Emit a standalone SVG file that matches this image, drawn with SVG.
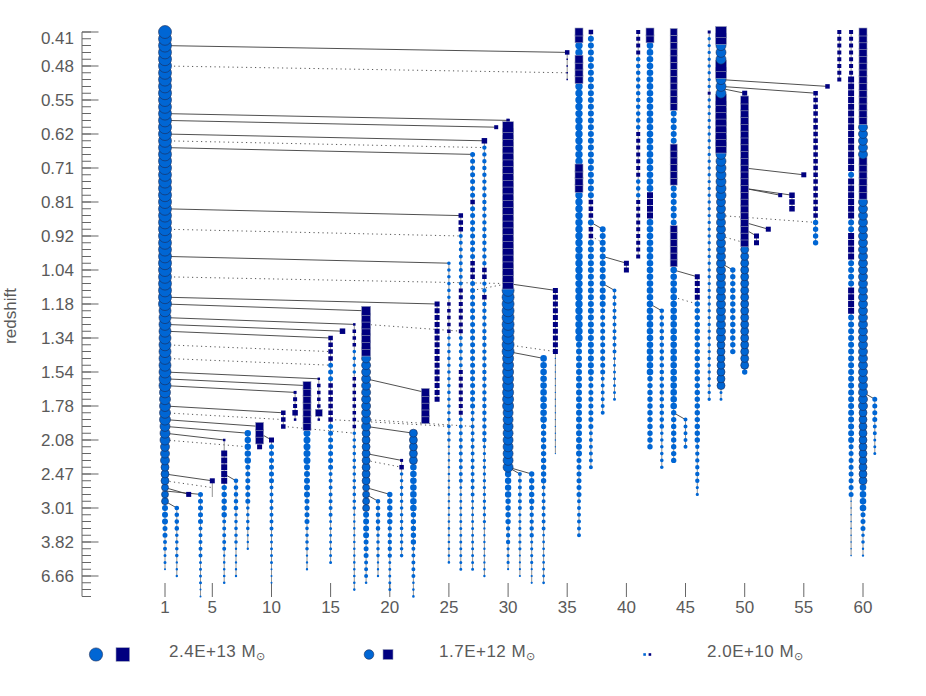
<svg xmlns="http://www.w3.org/2000/svg" width="926" height="696" viewBox="0 0 926 696">
<style>
.t{font-family:"Liberation Sans",Arial,sans-serif;font-size:17px;fill:#5a5a5a}
.lg{font-family:"Liberation Sans",Arial,sans-serif;font-size:17px;fill:#5a5a5a;letter-spacing:.5px}
.ax{stroke:#666;fill:none}
.cl{stroke:#666;stroke-width:.7;fill:none}
.k{fill:none;stroke:#0066d4;stroke-linecap:round;stroke-dasharray:0 6.8}
.q{fill:none;stroke:#000080}
.q15{stroke-width:1.5;stroke-dasharray:1.5 5.3}
.q25{stroke-width:2.5;stroke-dasharray:2.5 4.3}
.q3{stroke-width:3;stroke-dasharray:3 3.8}
.q35{stroke-width:3.5;stroke-dasharray:3.5 3.3}
.q4{stroke-width:4;stroke-dasharray:4 2.8}
.q45{stroke-width:4.5;stroke-dasharray:4.5 2.3}
.q5{stroke-width:5;stroke-dasharray:5 1.8}
.q55{stroke-width:5.5;stroke-dasharray:5.5 1.3}
.q6{stroke-width:6;stroke-dasharray:6 .8}
.m{fill:none;stroke:none}
.mc{fill:#0066d4;stroke:#1d2b55;stroke-width:.6}
.ms{fill:#000080;stroke:#9aa0b8;stroke-width:.6}
.C35{marker-start:url(#C35);marker-mid:url(#C35);marker-end:url(#C35)}
.C40{marker-start:url(#C40);marker-mid:url(#C40);marker-end:url(#C40)}
.C45{marker-start:url(#C45);marker-mid:url(#C45);marker-end:url(#C45)}
.C50{marker-start:url(#C50);marker-mid:url(#C50);marker-end:url(#C50)}
.C55{marker-start:url(#C55);marker-mid:url(#C55);marker-end:url(#C55)}
.C60{marker-start:url(#C60);marker-mid:url(#C60);marker-end:url(#C60)}
.C65{marker-start:url(#C65);marker-mid:url(#C65);marker-end:url(#C65)}
.S7{marker-start:url(#S7);marker-mid:url(#S7);marker-end:url(#S7)}
.S8{marker-start:url(#S8);marker-mid:url(#S8);marker-end:url(#S8)}
.S9{marker-start:url(#S9);marker-mid:url(#S9);marker-end:url(#S9)}
.S11{marker-start:url(#S11);marker-mid:url(#S11);marker-end:url(#S11)}
.ln{fill:none;stroke:#3c3c3c;stroke-width:.9}
.dt{fill:none;stroke:#555;stroke-width:1;stroke-dasharray:1.2 3.3}
</style>
<defs>
<marker id="C35" markerUnits="userSpaceOnUse" markerWidth="16" markerHeight="16" refX="8" refY="8"><circle cx="8" cy="8" r="3.5" class="mc"/></marker>
<marker id="C40" markerUnits="userSpaceOnUse" markerWidth="16" markerHeight="16" refX="8" refY="8"><circle cx="8" cy="8" r="4" class="mc"/></marker>
<marker id="C45" markerUnits="userSpaceOnUse" markerWidth="16" markerHeight="16" refX="8" refY="8"><circle cx="8" cy="8" r="4.5" class="mc"/></marker>
<marker id="C50" markerUnits="userSpaceOnUse" markerWidth="16" markerHeight="16" refX="8" refY="8"><circle cx="8" cy="8" r="5" class="mc"/></marker>
<marker id="C55" markerUnits="userSpaceOnUse" markerWidth="16" markerHeight="16" refX="8" refY="8"><circle cx="8" cy="8" r="5.5" class="mc"/></marker>
<marker id="C60" markerUnits="userSpaceOnUse" markerWidth="16" markerHeight="16" refX="8" refY="8"><circle cx="8" cy="8" r="6" class="mc"/></marker>
<marker id="C65" markerUnits="userSpaceOnUse" markerWidth="16" markerHeight="16" refX="8" refY="8"><circle cx="8" cy="8" r="6.5" class="mc"/></marker>
<marker id="S7" markerUnits="userSpaceOnUse" markerWidth="16" markerHeight="16" refX="8" refY="8"><rect x="4.5" y="4.5" width="7" height="7" class="ms"/></marker>
<marker id="S8" markerUnits="userSpaceOnUse" markerWidth="16" markerHeight="16" refX="8" refY="8"><rect x="4" y="4" width="8" height="8" class="ms"/></marker>
<marker id="S9" markerUnits="userSpaceOnUse" markerWidth="16" markerHeight="16" refX="8" refY="8"><rect x="3.5" y="3.5" width="9" height="9" class="ms"/></marker>
<marker id="S11" markerUnits="userSpaceOnUse" markerWidth="16" markerHeight="16" refX="8" refY="8"><rect x="2.5" y="2.5" width="11" height="11" class="ms"/></marker>
</defs>
<rect width="926" height="696" fill="#fff"/>

<g id="axes">
<path class="ax" d="M82 32V596.4"/>
<path class="ax" stroke-width="9" stroke-dasharray="1 5.8" d="M86.5 31.5V597"/>
<path class="ax" stroke-width="16.5" stroke-dasharray="1 33" d="M90.25 31.5V577"/>
<path class="ax" d="M165 583V597M212.3 583V597M271.5 583V597M330.6 583V597M389.8 583V597M448.9 583V597M508.1 583V597M567.2 583V597M626.4 583V597M685.5 583V597M744.7 583V597M803.8 583V597M863 583V597"/>
<g class="t" text-anchor="end">
<text x="74" y="44">0.41</text><text x="74" y="72">0.48</text><text x="74" y="106">0.55</text><text x="74" y="140">0.62</text><text x="74" y="174">0.71</text><text x="74" y="208">0.81</text><text x="74" y="242">0.92</text><text x="74" y="276">1.04</text><text x="74" y="310">1.18</text><text x="74" y="344">1.34</text><text x="74" y="378">1.54</text><text x="74" y="412">1.78</text><text x="74" y="446">2.08</text><text x="74" y="480">2.47</text><text x="74" y="514">3.01</text><text x="74" y="548">3.82</text><text x="74" y="582">6.66</text>
</g>
<g class="t" text-anchor="middle">
<text x="165" y="613">1</text><text x="212.3" y="613">5</text><text x="271.5" y="613">10</text><text x="330.6" y="613">15</text><text x="389.8" y="613">20</text><text x="448.9" y="613">25</text><text x="508.1" y="613">30</text><text x="567.2" y="613">35</text><text x="626.4" y="613">40</text><text x="685.5" y="613">45</text><text x="744.7" y="613">50</text><text x="803.8" y="613">55</text><text x="863" y="613">60</text>
</g>
<text class="t" text-anchor="middle" transform="translate(16,316) rotate(-90)">redshift</text>
</g>

<g id="connectors">
<path class="ln" d="M165 45.6L567.2 52.4"/>
<path class="ln" d="M165 113.6L508.1 120.4"/>
<path class="ln" d="M165 120.4L496.2 127.2"/>
<path class="ln" d="M165 134L484.4 140.8"/>
<path class="ln" d="M165 147.6L472.6 154.4"/>
<path class="ln" d="M165 208.8L460.8 215.6"/>
<path class="ln" d="M165 256.4L448.9 263.2"/>
<path class="ln" d="M165 297.2L437.1 304"/>
<path class="ln" d="M165 304L366.1 310.8"/>
<path class="ln" d="M165 317.6L354.3 324.4"/>
<path class="ln" d="M165 324.4L342.5 331.2"/>
<path class="ln" d="M165 331.2L330.6 338"/>
<path class="ln" d="M165 372L318.8 378.8"/>
<path class="ln" d="M165 378.8L307 385.6"/>
<path class="ln" d="M165 385.6L295.1 392.4"/>
<path class="ln" d="M165 406L283.3 412.8"/>
<path class="ln" d="M165 419.6L259.6 426.4"/>
<path class="ln" d="M165 426.4L247.8 433.2"/>
<path class="ln" d="M165 433.2L224.2 440"/>
<path class="ln" d="M165 474L212.3 480.8"/>
<path class="ln" d="M165 487.6L188.7 494.4"/>
<path class="ln" d="M165 491L200.5 494.4"/>
<path class="ln" d="M165 501.2L176.8 508"/>
<path class="ln" d="M224.2 474L236 480.8"/>
<path class="ln" d="M259.6 433.2L271.5 440"/>
<path class="ln" d="M366.1 378.8L425.3 392.4"/>
<path class="ln" d="M366.1 426.4L413.4 433.2"/>
<path class="ln" d="M366.1 453.6L401.6 460.4"/>
<path class="ln" d="M366.1 487.6L389.8 494.4"/>
<path class="ln" d="M366.1 494.4L378 501.2"/>
<path class="ln" d="M508.1 283.6L555.4 290.4"/>
<path class="ln" d="M508.1 351.6L543.6 358.4"/>
<path class="ln" d="M508.1 467.2L519.9 474"/>
<path class="ln" d="M508.1 467.2L531.7 474"/>
<path class="ln" d="M590.9 222.4L602.7 229.2"/>
<path class="ln" d="M602.7 256.4L626.4 263.2"/>
<path class="ln" d="M602.7 283.6L614.5 290.4"/>
<path class="ln" d="M650 304L661.8 310.8"/>
<path class="ln" d="M673.7 270L697.3 276.8"/>
<path class="ln" d="M673.7 412.8L685.5 419.6"/>
<path class="ln" d="M721 79.6L827.5 86.4"/>
<path class="ln" d="M721 86.4L815.6 93.2"/>
<path class="ln" d="M721 88.4L744.7 93.2"/>
<path class="ln" d="M721 263.2L732.8 270"/>
<path class="ln" d="M744.7 168L803.8 174.8"/>
<path class="ln" d="M744.7 188.4L780.2 195.2"/>
<path class="ln" d="M744.7 188.4L792 195.2"/>
<path class="ln" d="M744.7 222.4L768.3 229.2"/>
<path class="ln" d="M744.7 229.2L756.5 236"/>
<path class="ln" d="M863 392.4L874.8 399.2"/>
<path class="dt" d="M165 66L567.2 72.8"/>
<path class="dt" d="M165 140.8L484.4 147.6"/>
<path class="dt" d="M165 229.2L460.8 236"/>
<path class="dt" d="M165 276.8L508.1 283.6"/>
<path class="dt" d="M165 344.8L330.6 351.6"/>
<path class="dt" d="M165 358.4L330.6 365.2"/>
<path class="dt" d="M165 412.8L283.3 419.6"/>
<path class="dt" d="M165 440L247.8 446.8"/>
<path class="dt" d="M165 480.8L212.3 487.6"/>
<path class="dt" d="M330.6 419.6L448.9 426.4"/>
<path class="dt" d="M366.1 324.4L460.8 331.2"/>
<path class="dt" d="M366.1 419.6L472.6 426.4"/>
<path class="dt" d="M366.1 460.4L401.6 467.2"/>
<path class="dt" d="M283.3 426.4L354.3 433.2"/>
<path class="dt" d="M472.6 290.4L508.1 283.6"/>
<path class="dt" d="M508.1 344.8L555.4 351.6"/>
<path class="dt" d="M590.9 236L602.7 242.8"/>
<path class="dt" d="M673.7 297.2L697.3 304"/>
<path class="dt" d="M721 215.6L815.6 222.4"/>
<path class="dt" d="M721 236L744.7 242.8"/>
</g>

<g id="col1">
<path class="cl" d="M165 32V569.2"/>
<path class="k" stroke-width="6" d="M165 508V521.7"/>
<path class="k" stroke-width="5" d="M165 528.4V535.3"/>
<path class="k" stroke-width="4" d="M165 542V548.9"/>
<path class="k" stroke-width="3" d="M165 555.6V562.5"/>
<path class="k" stroke-width="2" d="M165 569.2V569.3"/>
<path class="m C35" d="M165 501.2v-6.8v-6.8"/>
<path class="m C40" d="M165 480.8v-6.8v-6.8"/>
<path class="m C45" d="M165 460.4v-6.8v-6.8"/>
<path class="m C50" d="M165 440v-6.8v-6.8"/>
<path class="m C55" d="M165 419.6v-6.8v-6.8v-6.8v-6.8"/>
<path class="m C60" d="M165 385.6v-6.8v-6.8v-6.8v-6.8v-6.8v-6.8v-6.8v-6.8v-6.8v-6.8v-6.8"/>
<path class="m C65" d="M165 304v-6.8v-6.8v-6.8v-6.8v-6.8v-6.8v-6.8v-6.8v-6.8v-6.8v-6.8v-6.8v-6.8v-6.8v-6.8v-6.8v-6.8v-6.8v-6.8v-6.8v-6.8v-6.8v-6.8v-6.8v-6.8v-6.8v-6.8v-6.8v-6.8v-6.8v-6.8v-6.8v-6.8v-6.8v-6.8v-6.8v-6.8v-6.8v-6.8v-6.8"/>
</g>
<g id="col2"><path class="cl" d="M176.8 508V576"/><path class="k" stroke-width="4.6" d="M176.8 508V528.5"/><path class="k" stroke-width="3.6" d="M176.8 535.2V555.7"/><path class="k" stroke-width="2.4" d="M176.8 562.4V576.1"/></g>
<g id="col3"><path class="q q5" d="M188.7 491.9V496.9"/></g>
<g id="col4"><path class="cl" d="M200.5 494.4V596.4"/><path class="k" stroke-width="5" d="M200.5 494.4V521.7"/><path class="k" stroke-width="4" d="M200.5 528.4V555.7"/><path class="k" stroke-width="3" d="M200.5 562.4V582.9"/><path class="k" stroke-width="2" d="M200.5 589.6V596.5"/></g>
<g id="col5"><path class="cl" d="M212.3 480.8V497"/><path class="q q5" d="M212.3 478.3V483.3"/></g>
<g id="col6"><path class="cl" d="M224.2 440V582.8"/><path class="q q25" d="M224.2 438.75V441.25"/><path class="q q6" d="M224.2 450.6V483.8"/><path class="k" stroke-width="5.4" d="M224.2 487.6V514.9"/><path class="k" stroke-width="4" d="M224.2 521.6V548.9"/><path class="k" stroke-width="2.6" d="M224.2 555.6V582.9"/></g>
<g id="col7"><path class="cl" d="M236 480.8V576"/><path class="k" stroke-width="4.6" d="M236 480.8V508.1"/><path class="k" stroke-width="3.6" d="M236 514.8V542.1"/><path class="k" stroke-width="2.4" d="M236 548.8V576.1"/></g>
<g id="col8"><path class="cl" d="M247.8 433.2V548.8"/><path class="k" stroke-width="6.4" d="M247.8 433.2V460.5"/><path class="k" stroke-width="5" d="M247.8 467.2V501.3"/><path class="k" stroke-width="3.6" d="M247.8 508V528.5"/><path class="k" stroke-width="2.4" d="M247.8 535.2V548.9"/></g>
<g id="col9"><path class="cl" d="M259.6 426.4V446.8"/><path class="q q5" d="M259.6 444.3V449.3"/><path class="m S8" d="M259.6 440v-6.8v-6.8"/></g>
<g id="col10"><path class="cl" d="M271.5 440V582.8"/><path class="q q5" d="M271.5 437.5V442.5"/><path class="k" stroke-width="5" d="M271.5 446.8V480.9"/><path class="k" stroke-width="4" d="M271.5 487.6V528.5"/><path class="k" stroke-width="3" d="M271.5 535.2V562.5"/><path class="k" stroke-width="2" d="M271.5 569.2V582.9"/></g>
<g id="col11"><path class="cl" d="M283.3 412.8V426.4"/><path class="q q45" d="M283.3 410.55V428.65"/></g>
<g id="col12"><path class="cl" d="M295.1 392.4V419.6"/><path class="q q3" d="M295.1 390.9V393.9"/><path class="q q4" d="M295.1 397.2V408"/><path class="q q55" d="M295.1 410.05V415.55"/><path class="q q25" d="M295.1 418.35V420.85"/></g>
<g id="col13"><path class="cl" d="M307 385.6V569.2"/><path class="k" stroke-width="7" d="M307 433.2V460.5"/><path class="k" stroke-width="6" d="M307 467.2V494.5"/><path class="k" stroke-width="5" d="M307 501.2V521.7"/><path class="k" stroke-width="3.6" d="M307 528.4V548.9"/><path class="k" stroke-width="2.4" d="M307 555.6V569.3"/><path class="m S8" d="M307 426.4v-6.8v-6.8v-6.8v-6.8v-6.8v-6.8"/></g>
<g id="col14"><path class="cl" d="M318.8 378.8V419.6"/><path class="q q25" d="M318.8 377.55V380.05"/><path class="q q35" d="M318.8 383.85V407.75"/><rect class="ms" x="315.3" y="409.3" width="7" height="7"/><path class="q q25" d="M318.8 418.35V420.85"/></g>
<g id="col15"><path class="cl" d="M330.6 338V562.4"/><path class="q q45" d="M330.6 335.75V360.65"/><path class="k" stroke-width="5" d="M330.6 365.2V378.9"/><path class="q q45" d="M330.6 383.35V421.85"/><path class="k" stroke-width="5" d="M330.6 426.4V467.3"/><path class="k" stroke-width="4" d="M330.6 474V514.9"/><path class="k" stroke-width="3" d="M330.6 521.6V562.5"/></g>
<g id="col16"><path class="q q55" d="M342.5 328.45V333.95"/></g>
<g id="col17"><path class="cl" d="M354.3 324.4V589.6"/><path class="q q25" d="M354.3 323.15V325.65"/><path class="q q35" d="M354.3 329.45V346.55"/><path class="k" stroke-width="3.6" d="M354.3 351.6V372.1"/><path class="q q35" d="M354.3 377.05V428.15"/><path class="k" stroke-width="3.6" d="M354.3 433.2V508.1"/><path class="k" stroke-width="2.6" d="M354.3 514.8V589.7"/></g>
<g id="col18"><path class="cl" d="M366.1 310.8V582.8"/><path class="k" stroke-width="6" d="M366.1 514.8V535.3"/><path class="k" stroke-width="5" d="M366.1 542V555.7"/><path class="k" stroke-width="4" d="M366.1 562.4V576.1"/><path class="k" stroke-width="2.6" d="M366.1 582.8V582.9"/><path class="m C35" d="M366.1 508v-6.8v-6.8v-6.8"/><path class="m C40" d="M366.1 480.8v-6.8v-6.8v-6.8v-6.8v-6.8v-6.8v-6.8"/><path class="m C45" d="M366.1 426.4v-6.8v-6.8v-6.8v-6.8v-6.8v-6.8v-6.8v-6.8v-6.8v-6.8"/><path class="m S9" d="M366.1 351.6v-6.8v-6.8v-6.8v-6.8v-6.8v-6.8"/></g>
<g id="col19"><path class="cl" d="M378 501.2V576"/><path class="k" stroke-width="4.6" d="M378 501.2V528.5"/><path class="k" stroke-width="3.6" d="M378 535.2V555.7"/><path class="k" stroke-width="2.4" d="M378 562.4V576.1"/></g>
<g id="col20"><path class="cl" d="M389.8 494.4V589.6"/><path class="k" stroke-width="5.4" d="M389.8 494.4V521.7"/><path class="k" stroke-width="4.4" d="M389.8 528.4V555.7"/><path class="k" stroke-width="3" d="M389.8 562.4V589.7"/></g>
<g id="col21"><path class="cl" d="M401.6 460.4V555.6"/><path class="q q3" d="M401.6 458.9V461.9"/><path class="q q45" d="M401.6 464.95V469.45"/><path class="k" stroke-width="3.6" d="M401.6 474V555.7"/></g>
<g id="col22"><path class="cl" d="M413.4 433.2V596.4"/><path class="k" stroke-width="6.6" d="M413.4 467.2V508.1"/><path class="k" stroke-width="5.4" d="M413.4 514.8V542.1"/><path class="k" stroke-width="4" d="M413.4 548.8V576.1"/><path class="k" stroke-width="2.6" d="M413.4 582.8V596.5"/><path class="m C40" d="M413.4 460.4v-6.8v-6.8v-6.8v-6.8"/></g>
<g id="col23"><path class="m S8" d="M425.3 419.6v-6.8v-6.8v-6.8v-6.8"/></g>
<g id="col24"><path class="cl" d="M437.1 304V399.2"/><path class="q q5" d="M437.1 301.5V401.7"/></g>
<g id="col25"><path class="cl" d="M448.9 263.2V562.4"/><path class="k" stroke-width="3.6" d="M448.9 263.2V297.3"/><path class="q q35" d="M448.9 302.25V332.95"/><path class="k" stroke-width="3.6" d="M448.9 338V440.1"/><path class="k" stroke-width="2.6" d="M448.9 446.8V562.5"/></g>
<g id="col26"><path class="cl" d="M460.8 215.6V569.2"/><path class="q q45" d="M460.8 213.35V231.45"/><path class="k" stroke-width="4" d="M460.8 236V283.7"/><path class="q q4" d="M460.8 288.4V333.2"/><path class="k" stroke-width="4" d="M460.8 338V365.3"/><path class="q q4" d="M460.8 370V414.8"/><path class="k" stroke-width="4" d="M460.8 419.6V480.9"/><path class="k" stroke-width="3" d="M460.8 487.6V569.3"/></g>
<g id="col27"><path class="cl" d="M472.6 154.4V569.2"/><path class="k" stroke-width="5" d="M472.6 154.4V195.3"/><path class="q q45" d="M472.6 199.75V204.25"/><path class="k" stroke-width="5" d="M472.6 208.8V256.5"/><path class="q q45" d="M472.6 260.95V279.05"/><path class="k" stroke-width="5" d="M472.6 283.6V406.1"/><path class="k" stroke-width="4" d="M472.6 412.8V494.5"/><path class="k" stroke-width="3" d="M472.6 501.2V569.3"/></g>
<g id="col28"><path class="cl" d="M484.4 140.8V576"/><path class="q q55" d="M484.4 138.05V143.55"/><path class="k" stroke-width="4.4" d="M484.4 147.6V263.3"/><path class="q q45" d="M484.4 267.75V279.05"/><path class="k" stroke-width="4.4" d="M484.4 283.6V290.5"/><path class="q q45" d="M484.4 294.95V299.45"/><path class="k" stroke-width="4.4" d="M484.4 304V440.1"/><path class="k" stroke-width="3.4" d="M484.4 446.8V521.7"/><path class="k" stroke-width="2.4" d="M484.4 528.4V576.1"/></g>
<g id="col29"><path class="q q4" d="M496.2 125.2V129.2"/></g>
<g id="col30"><path class="cl" d="M508.1 120.4V569.2"/><path class="q q35" d="M508.1 118.65V122.15"/><path class="k" stroke-width="6.4" d="M508.1 474V494.5"/><path class="k" stroke-width="5.4" d="M508.1 501.2V521.7"/><path class="k" stroke-width="4.4" d="M508.1 528.4V542.1"/><path class="k" stroke-width="3.2" d="M508.1 548.8V562.5"/><path class="k" stroke-width="2.2" d="M508.1 569.2V569.3"/><path class="m C50" d="M508.1 467.2v-6.8v-6.8v-6.8v-6.8v-6.8v-6.8v-6.8v-6.8"/><path class="m C55" d="M508.1 406v-6.8v-6.8v-6.8v-6.8v-6.8v-6.8v-6.8"/><path class="m C60" d="M508.1 351.6v-6.8v-6.8v-6.8v-6.8v-6.8v-6.8v-6.8v-6.8v-6.8"/><path class="m S11" d="M508.1 283.6v-6.8v-6.8v-6.8v-6.8v-6.8v-6.8v-6.8v-6.8v-6.8v-6.8v-6.8v-6.8v-6.8v-6.8v-6.8v-6.8v-6.8v-6.8v-6.8v-6.8v-6.8v-6.8v-6.8"/></g>
<g id="col31"><path class="cl" d="M519.9 474V576"/><path class="k" stroke-width="4" d="M519.9 474V508.1"/><path class="k" stroke-width="3.2" d="M519.9 514.8V548.9"/><path class="k" stroke-width="2.2" d="M519.9 555.6V576.1"/></g>
<g id="col32"><path class="cl" d="M531.7 474V582.8"/><path class="k" stroke-width="5.4" d="M531.7 474V501.3"/><path class="k" stroke-width="4.4" d="M531.7 508V535.3"/><path class="k" stroke-width="3.2" d="M531.7 542V562.5"/><path class="k" stroke-width="2.2" d="M531.7 569.2V582.9"/></g>
<g id="col33"><path class="cl" d="M543.6 358.4V582.8"/><path class="k" stroke-width="6.6" d="M543.6 358.4V419.7"/><path class="k" stroke-width="5.4" d="M543.6 426.4V480.9"/><path class="k" stroke-width="4" d="M543.6 487.6V528.5"/><path class="k" stroke-width="2.8" d="M543.6 535.2V582.9"/></g>
<g id="col34"><path class="cl" d="M555.4 290.4V453.6"/><path class="q q5" d="M555.4 287.9V354.1"/><path class="k" stroke-width="1.4" d="M555.4 358.4V453.7"/></g>
<g id="col35"><path class="cl" d="M567.2 52.4V79.6"/><path class="q q45" d="M567.2 50.15V54.65"/><path class="q q15" d="M567.2 58.45V80.35"/></g>
<g id="col36"><path class="cl" d="M579 32V535.2"/><path class="k" stroke-width="7.4" d="M579 45.6V52.5"/><path class="k" stroke-width="7.4" d="M579 86.4V161.3"/><path class="k" stroke-width="7.4" d="M579 195.2V338.1"/><path class="k" stroke-width="6" d="M579 344.8V453.7"/><path class="k" stroke-width="5" d="M579 460.4V494.5"/><path class="k" stroke-width="4" d="M579 501.2V535.3"/><path class="m S8" d="M579 188.4v-6.8v-6.8v-6.8"/><path class="m S8" d="M579 79.6v-6.8v-6.8v-6.8"/><path class="m S8" d="M579 38.8v-6.8"/></g>
<g id="col37"><path class="cl" d="M590.9 32V467.2"/><path class="q q45" d="M590.9 29.75V34.25"/><path class="k" stroke-width="6" d="M590.9 38.8V195.3"/><path class="q q45" d="M590.9 199.75V217.85"/><path class="k" stroke-width="6" d="M590.9 222.4V222.5"/><path class="q q45" d="M590.9 226.95V238.25"/><path class="k" stroke-width="6" d="M590.9 242.8V372.1"/><path class="k" stroke-width="5" d="M590.9 378.8V426.5"/><path class="k" stroke-width="4" d="M590.9 433.2V467.3"/></g>
<g id="col38"><path class="cl" d="M602.7 229.2V412.8"/><path class="k" stroke-width="6" d="M602.7 229.2V304.1"/><path class="k" stroke-width="5" d="M602.7 310.8V372.1"/><path class="k" stroke-width="4" d="M602.7 378.8V412.9"/></g>
<g id="col39"><path class="cl" d="M614.5 290.4V399.2"/><path class="k" stroke-width="4" d="M614.5 290.4V351.7"/><path class="k" stroke-width="3" d="M614.5 358.4V399.3"/></g>
<g id="col40"><path class="cl" d="M626.4 263.2V270"/><path class="q q5" d="M626.4 260.7V272.5"/></g>
<g id="col41"><path class="cl" d="M638.2 32V256.4"/><path class="q q4" d="M638.2 30V54.4"/><path class="k" stroke-width="4.6" d="M638.2 59.2V127.3"/><path class="q q4" d="M638.2 132V176.8"/><path class="k" stroke-width="4.6" d="M638.2 181.6V195.3"/><path class="q q4" d="M638.2 200V258.4"/></g>
<g id="col42"><path class="cl" d="M650 32V446.8"/><path class="k" stroke-width="6.6" d="M650 45.6V188.5"/><path class="q q6" d="M650 192.2V218.6"/><path class="k" stroke-width="6.6" d="M650 222.4V372.1"/><path class="k" stroke-width="5.4" d="M650 378.8V446.9"/><path class="m S8" d="M650 38.8v-6.8"/></g>
<g id="col43"><path class="cl" d="M661.8 310.8V467.2"/><path class="k" stroke-width="4.6" d="M661.8 310.8V426.5"/><path class="k" stroke-width="3.6" d="M661.8 433.2V467.3"/></g>
<g id="col44"><path class="cl" d="M673.7 32V460.4"/><path class="k" stroke-width="6" d="M673.7 113.6V140.9"/><path class="k" stroke-width="6" d="M673.7 188.4V222.5"/><path class="k" stroke-width="6.6" d="M673.7 270V406.1"/><path class="k" stroke-width="5.4" d="M673.7 412.8V460.5"/><path class="m S7" d="M673.7 263.2v-6.8v-6.8v-6.8v-6.8v-6.8"/><path class="m S7" d="M673.7 181.6v-6.8v-6.8v-6.8v-6.8v-6.8"/><path class="m S7" d="M673.7 106.8v-6.8v-6.8v-6.8v-6.8v-6.8v-6.8v-6.8v-6.8v-6.8v-6.8v-6.8"/></g>
<g id="col45"><path class="cl" d="M685.5 419.6V446.8"/><path class="k" stroke-width="4" d="M685.5 419.6V446.9"/></g>
<g id="col46"><path class="cl" d="M697.3 276.8V494.4"/><path class="q q5" d="M697.3 274.3V299.7"/><path class="k" stroke-width="5.4" d="M697.3 304V440.1"/><path class="k" stroke-width="4.4" d="M697.3 446.8V480.9"/><path class="k" stroke-width="3.2" d="M697.3 487.6V494.5"/></g>
<g id="col47"><path class="cl" d="M709.2 32V399.2"/><path class="q q3" d="M709.2 30.5V33.5"/><path class="k" stroke-width="3.4" d="M709.2 38.8V86.5"/><path class="q q3" d="M709.2 91.7V94.7"/><path class="k" stroke-width="3.4" d="M709.2 100V399.3"/></g>
<g id="col48"><path class="cl" d="M721 32V399.2"/><path class="k" stroke-width="3" d="M721 392.4V399.3"/><path class="m C40" d="M721 385.6v-6.8v-6.8v-6.8v-6.8v-6.8v-6.8"/><path class="m C45" d="M721 338v-6.8v-6.8v-6.8v-6.8v-6.8v-6.8v-6.8v-6.8v-6.8v-6.8v-6.8v-6.8v-6.8v-6.8v-6.8v-6.8v-6.8v-6.8v-6.8v-6.8"/><path class="m C50" d="M721 195.2v-6.8v-6.8v-6.8v-6.8v-6.8v-6.8"/><path class="m S11" d="M721 147.6v-6.8v-6.8v-6.8v-6.8v-6.8v-6.8v-6.8"/><path class="m C50" d="M721 93.2v-6.8v-6.8"/><path class="m S11" d="M721 72.8v-6.8"/><path class="m C50" d="M721 59.2v-6.8v-6.8"/><path class="m S11" d="M721 38.8v-6.8"/></g>
<g id="col49"><path class="cl" d="M732.8 270V351.6"/><path class="k" stroke-width="5.4" d="M732.8 270V351.7"/></g>
<g id="col50"><path class="cl" d="M744.7 93.2V372"/><path class="q q5" d="M744.7 90.7V95.7"/><path class="k" stroke-width="5.4" d="M744.7 372V372.1"/><path class="m C40" d="M744.7 365.2v-6.8v-6.8v-6.8v-6.8v-6.8v-6.8v-6.8v-6.8v-6.8v-6.8v-6.8v-6.8v-6.8v-6.8v-6.8v-6.8v-6.8"/><path class="m S8" d="M744.7 242.8v-6.8v-6.8v-6.8v-6.8v-6.8v-6.8v-6.8v-6.8v-6.8v-6.8v-6.8v-6.8v-6.8v-6.8v-6.8v-6.8v-6.8v-6.8v-6.8v-6.8v-6.8"/></g>
<g id="col51"><path class="cl" d="M756.5 236V242.8"/><path class="q q5" d="M756.5 233.5V245.3"/></g>
<g id="col52"><path class="q q5" d="M768.3 226.7V231.7"/></g>
<g id="col53"><path class="q q4" d="M780.2 193.2V197.2"/></g>
<g id="col54"><path class="cl" d="M792 195.2V208.8"/><path class="q q55" d="M792 192.45V211.55"/></g>
<g id="col55"><path class="q q5" d="M803.8 172.3V177.3"/></g>
<g id="col56"><path class="cl" d="M815.6 93.2V242.8"/><path class="q q45" d="M815.6 90.95V217.85"/><path class="k" stroke-width="5.4" d="M815.6 222.4V242.9"/></g>
<g id="col57"><path class="q q45" d="M827.5 84.15V88.65"/></g>
<g id="col58"><path class="cl" d="M839.3 32V79.6"/><path class="q q4" d="M839.3 30V81.6"/></g>
<g id="col59"><path class="cl" d="M851.1 32V555.6"/><path class="q q4" d="M851.1 30V74.8"/><path class="q q6" d="M851.1 76.6V171"/><path class="k" stroke-width="6" d="M851.1 174.8V174.9"/><path class="q q6" d="M851.1 178.6V218.6"/><path class="k" stroke-width="6" d="M851.1 222.4V229.3"/><path class="q q6" d="M851.1 233V259.4"/><path class="k" stroke-width="6" d="M851.1 263.2V283.7"/><path class="q q6" d="M851.1 287.4V314"/><path class="k" stroke-width="6" d="M851.1 317.6V440.1"/><path class="k" stroke-width="5" d="M851.1 446.8V494.5"/><path class="k" stroke-width="1.6" d="M851.1 501.2V555.7"/></g>
<g id="col60"><path class="cl" d="M863 32V555.6"/><path class="k" stroke-width="6.6" d="M863 487.6V508.1"/><path class="k" stroke-width="5" d="M863 514.8V528.5"/><path class="k" stroke-width="3.6" d="M863 535.2V542.1"/><path class="k" stroke-width="2.4" d="M863 548.8V555.7"/><path class="m C40" d="M863 480.8v-6.8v-6.8v-6.8v-6.8v-6.8v-6.8v-6.8v-6.8v-6.8v-6.8"/><path class="m C45" d="M863 406v-6.8v-6.8v-6.8v-6.8v-6.8v-6.8v-6.8v-6.8v-6.8v-6.8v-6.8v-6.8v-6.8v-6.8v-6.8v-6.8v-6.8v-6.8v-6.8v-6.8v-6.8v-6.8v-6.8v-6.8v-6.8v-6.8v-6.8v-6.8v-6.8v-6.8"/><path class="m S8" d="M863 195.2v-6.8v-6.8v-6.8v-6.8v-6.8"/><path class="m C45" d="M863 154.4v-6.8v-6.8v-6.8v-6.8"/><path class="m S8" d="M863 120.4v-6.8v-6.8v-6.8v-6.8v-6.8v-6.8v-6.8v-6.8v-6.8v-6.8v-6.8v-6.8v-6.8"/></g>
<g id="col61"><path class="cl" d="M874.8 399.2V453.6"/><path class="k" stroke-width="5" d="M874.8 399.2V419.7"/><path class="k" stroke-width="4" d="M874.8 426.4V433.3"/><path class="k" stroke-width="3" d="M874.8 440V453.7"/></g>

<g id="legend">
<circle class="mc" cx="96" cy="654.5" r="6.6"/>
<rect class="ms" x="116" y="647.7" width="13.6" height="13.6"/>
<text class="lg" x="169" y="657">2.4E+13 M<tspan font-size="11" dy="3">⊙</tspan></text>
<circle class="mc" cx="369" cy="654.5" r="4.8"/>
<rect class="ms" x="383" y="649.5" width="10" height="10"/>
<text class="lg" x="439" y="657">1.7E+12 M<tspan font-size="11" dy="3">⊙</tspan></text>
<rect x="643.3" y="653.2" width="2.6" height="2.6" fill="#0066d4"/>
<rect x="648.6" y="653.2" width="2.6" height="2.6" fill="#000080"/>
<text class="lg" x="707" y="657">2.0E+10 M<tspan font-size="11" dy="3">⊙</tspan></text>
</g>
</svg>
